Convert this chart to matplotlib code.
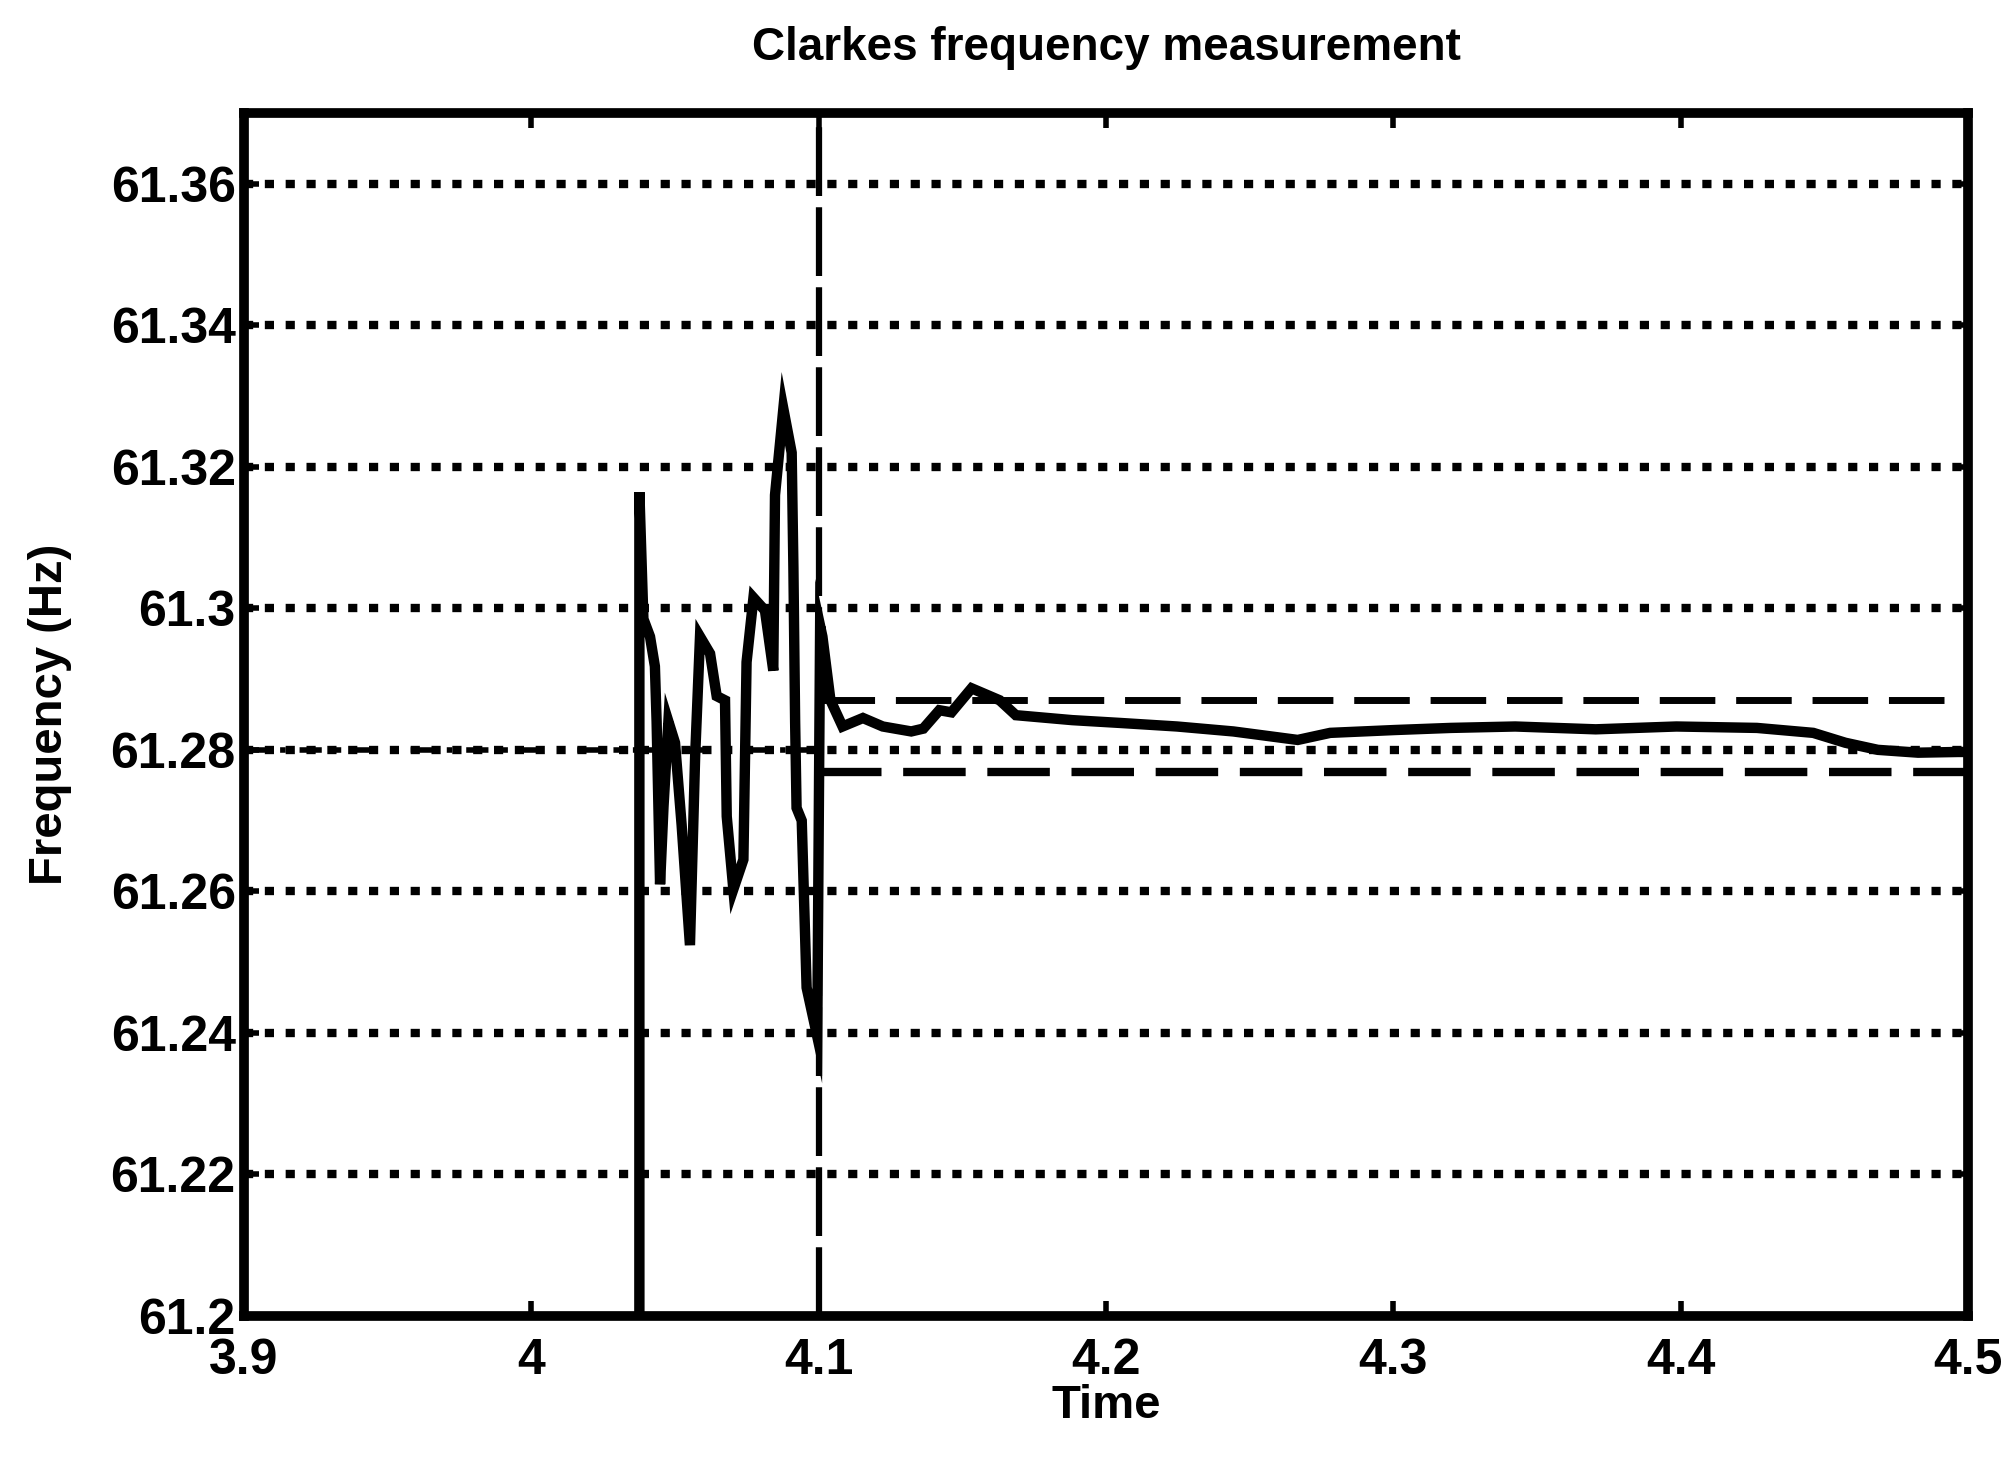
import matplotlib
matplotlib.use("Agg")
import matplotlib.pyplot as plt

plt.rcParams['font.family'] = ['Liberation Sans Narrow', 'Liberation Sans', 'DejaVu Sans']

# ---- data ----
time_s = [4.0376, 4.0376, 4.0390, 4.0413, 4.0430, 4.0436, 4.0448, 4.0460, 4.0477,
          4.0500, 4.0523, 4.0552, 4.0570, 4.0587, 4.0622, 4.0645, 4.0674, 4.0680,
          4.0703, 4.0738, 4.0749, 4.0773, 4.0813, 4.0842, 4.0848, 4.0877, 4.0906,
          4.0912, 4.0918, 4.0923, 4.0941, 4.0958, 4.0995, 4.1005, 4.1013, 4.1041,
          4.1083, 4.1154, 4.1223, 4.1322, 4.1364, 4.1420, 4.1462, 4.1532, 4.1630,
          4.1686, 4.1882, 4.2050, 4.2247, 4.2443, 4.2667, 4.2780, 4.3004, 4.3200,
          4.3424, 4.3704, 4.3985, 4.4265, 4.4461, 4.4573, 4.4686, 4.4826, 4.4965, 4.5]
freq_hz = [61.2, 61.3164, 61.2985, 61.2960, 61.2918, 61.2840, 61.2610, 61.2720, 61.2840,
           61.2810, 61.2694, 61.2524, 61.2790, 61.2960, 61.2936, 61.2876, 61.2870, 61.2706,
           61.2603, 61.2645, 61.2924, 61.3015, 61.2997, 61.2912, 61.3160, 61.3282, 61.3220,
           61.3058, 61.2840, 61.2718, 61.2700, 61.2464, 61.2395, 61.2975, 61.2960, 61.2870,
           61.2833, 61.2845, 61.2833, 61.2826, 61.2830, 61.2856, 61.2853, 61.2887, 61.2870,
           61.2849, 61.2842, 61.2838, 61.2833, 61.2826, 61.2814, 61.2824, 61.2828, 61.2831,
           61.2833, 61.2829, 61.2833, 61.2831, 61.2824, 61.2810, 61.2800, 61.2796, 61.2797, 61.2797]

event_time = 4.1
band_upper = 61.287
band_lower = 61.2768
nominal_freq = 61.28

x_ticks = [3.9, 4.0, 4.1, 4.2, 4.3, 4.4, 4.5]
x_tick_labels = ["3.9", "4", "4.1", "4.2", "4.3", "4.4", "4.5"]
y_ticks = [61.2, 61.22, 61.24, 61.26, 61.28, 61.3, 61.32, 61.34, 61.36]
y_tick_labels = ["61.2", "61.22", "61.24", "61.26", "61.28", "61.3", "61.32", "61.34", "61.36"]

title_text = "Clarkes frequency measurement"
x_label = "Time"
y_label = "Frequency (Hz)"

# ---- figure ----
fig = plt.figure(figsize=(20.13, 14.71), dpi=100)
ax = fig.add_axes([0.1212, 0.1054, 0.8565, 0.8178])

ax.set_xlim(3.9, 4.5)
ax.set_ylim(61.2, 61.37)

# horizontal dotted grid
for yv in y_ticks[1:]:
    ax.axhline(yv, color='black', lw=6, linestyle=(0, (1.1, 1.4)), zorder=1)

# nominal reference (left part, dash-dot)
ax.plot([3.9, event_time], [nominal_freq, nominal_freq], color='black', lw=4,
        linestyle=(0, (4, 2.5, 1, 2.5)), zorder=1)

# event marker
ax.axvline(event_time, color='black', lw=4.5, linestyle=(0, (11, 1.8)), zorder=2)

# tolerance band
ax.plot([event_time, 4.5], [band_upper, band_upper], color='black', lw=5,
        linestyle=(0, (8, 3)), zorder=2)
ax.plot([event_time, 4.5], [band_lower, band_lower], color='black', lw=6,
        linestyle=(0, (7.5, 2.6)), zorder=2)

# measured frequency
ax.plot(time_s, freq_hz, color='black', lw=7.5, solid_joinstyle='miter', zorder=3)

ax.set_xticks(x_ticks)
ax.set_xticklabels(x_tick_labels)
ax.set_yticks(y_ticks)
ax.set_yticklabels(y_tick_labels)

for lab in ax.get_xticklabels() + ax.get_yticklabels():
    lab.set_fontweight('bold')
ax.tick_params(axis='both', direction='in', top=True, right=True, length=11,
               width=4, labelsize=36)
ax.tick_params(axis='x', pad=16)
ax.tick_params(axis='y', pad=6)

for sp in ax.spines.values():
    sp.set_linewidth(7)

ax.set_title(title_text, fontsize=33, fontweight='bold', pad=38)
ax.set_xlabel(x_label, fontsize=34, fontweight='bold', labelpad=0)
ax.set_ylabel(y_label, fontsize=34, fontweight='bold', labelpad=28)

fig.savefig("out.png", dpi=100, facecolor='white')
